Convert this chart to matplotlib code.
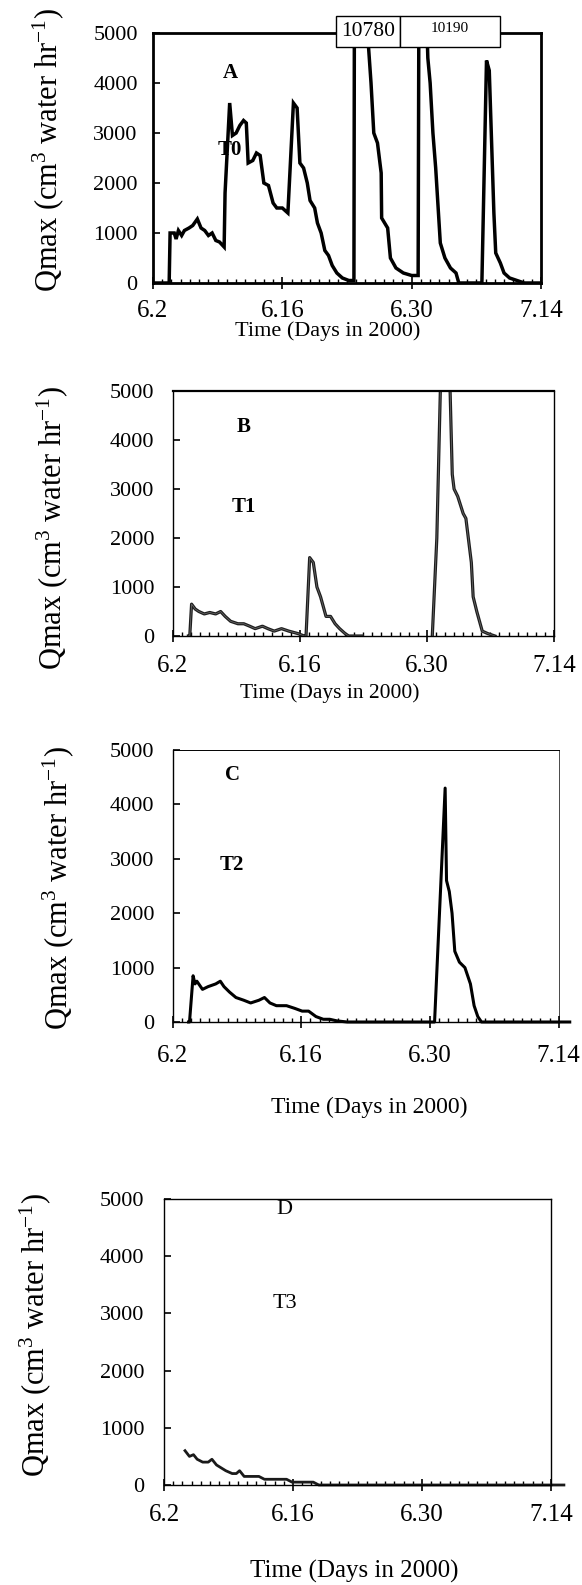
import matplotlib
matplotlib.use("Agg")
import matplotlib.pyplot as plt
import numpy as np
from matplotlib.patches import Rectangle
from matplotlib.ticker import MultipleLocator

plt.rcParams["font.family"] = ["Liberation Serif", "DejaVu Serif"]
plt.rcParams["mathtext.fontset"] = "custom"
plt.rcParams["mathtext.rm"] = "Liberation Serif"
plt.rcParams["mathtext.it"] = "Liberation Serif:italic"
plt.rcParams["mathtext.bf"] = "Liberation Serif:bold"

# x axis: days after 2 June 2000
TICK_DAYS = [0, 14, 28, 42]
TICK_LABELS = ["6.2", "6.16", "6.30", "7.14"]
Y_TICKS = [0, 1000, 2000, 3000, 4000, 5000]

# A / T0
T0_DAY = [0, 1.75, 1.85, 2.3, 2.5, 2.75, 3.1, 3.4, 3.9, 4.3, 4.8, 5.2, 5.6, 6.0, 6.4, 6.8,
          7.2, 7.7, 7.8, 8.3, 8.6, 9.0, 9.4, 9.8, 10.1, 10.3, 10.8, 11.2, 11.6, 12.0, 12.5,
          13.0, 13.4, 14.0, 14.6, 14.9, 15.2, 15.6, 15.9, 16.3, 16.7, 17.0, 17.5, 17.8, 18.2,
          18.6, 19.0, 19.4, 19.9, 20.5, 21.2, 21.75, 21.85, 23.3, 23.6, 23.9, 24.3, 24.7,
          24.75, 25.4, 25.7, 26.3, 27.1, 28.0, 28.7, 28.85, 29.75, 30.0, 30.3, 30.6, 31.1,
          31.6, 32.2, 32.8, 33.1, 35.6, 36.1, 36.4, 36.9, 37.1, 37.6, 38.0, 38.6, 39.4, 40.2, 42]
T0_Q = [0, 0, 1000, 1000, 880, 1050, 950, 1050, 1100, 1150, 1280, 1100, 1050, 950, 1000, 850,
        820, 720, 1800, 3600, 2950, 3000, 3150, 3250, 3200, 2400, 2450, 2600, 2550, 2000, 1950,
        1600, 1500, 1500, 1400, 2500, 3600, 3500, 2400, 2300, 2000, 1650, 1500, 1200, 1000,
        650, 550, 350, 200, 100, 50, 50, 10780, 4800, 4000, 3000, 2800, 2200,
        1300, 1100, 500, 300, 200, 150, 150, 10190, 4500, 4000, 3000, 2300, 800,
        500, 300, 200, 0, 0, 4450, 4250, 1400, 600, 400, 200, 100, 50, 0, 0]

# B / T1 (no trace drawn between ~6.23 and 6.30)
T1_DAY = [1.75, 1.9, 2.1, 2.5, 2.9, 3.5, 4.1, 4.75, 5.3, 5.8, 6.4, 7.2, 7.85, 8.5, 9.1, 9.9,
          10.5, 11.2, 12.0, 12.8, 13.8, 14.5, 14.7, 15.1, 15.5, 15.9, 16.3, 16.6, 16.9, 17.4,
          17.9, 18.4, 19.0, 19.4, 20.9, np.nan, 28.6, 29.1, 30.0, 30.8, 31.0, 31.4, 32.0, 32.3,
          32.9, 33.1, 33.5, 34.1, 34.7, 35.5]
T1_Q = [0, 0, 650, 550, 500, 450, 480, 450, 500, 400, 300, 250, 250, 200, 150, 200,
        150, 100, 150, 100, 50, 0, 0, 1600, 1500, 1000, 800, 600, 400, 400,
        250, 150, 50, 0, 0, np.nan, 0, 2000, 9000, 3300, 3000, 2850, 2500, 2400,
        1500, 800, 500, 100, 50, 0]

# C / T2
T2_DAY = [1.75, 1.85, 2.24, 2.45, 2.65, 3.26, 3.87, 4.7, 5.2, 5.6, 6.2, 6.9, 7.75, 8.5, 9.4,
          10.0, 10.6, 11.3, 12.4, 13.3, 14.1, 14.8, 15.6, 16.4, 17.1, 17.9, 19.0, 28.5, 29.65,
          29.8, 30.1, 30.4, 30.7, 31.2, 31.8, 32.4, 32.8, 33.2, 33.6, 43.2]
T2_Q = [0, 0, 850, 700, 750, 600, 650, 700, 750, 650, 550, 450, 400, 350, 400,
        450, 350, 300, 300, 250, 200, 200, 100, 50, 50, 20, 0, 0, 4300,
        2600, 2400, 2000, 1300, 1100, 1000, 700, 300, 100, 0, 0]

# D / T3
T3_DAY = [2.28, 2.76, 3.2, 3.6, 4.2, 4.8, 5.2, 5.7, 6.2, 6.7, 7.4, 7.85, 8.2, 8.7, 10.3,
          10.9, 13.3, 13.9, 16.2, 16.8, 43.4]
T3_Q = [600, 500, 530, 450, 400, 400, 450, 350, 300, 250, 200, 200, 250, 150, 150,
        100, 100, 50, 50, 0, 0]

W, H = 582, 1585
YLABEL = r"Qmax (cm$^3$ water hr$^{-1}$)"
XLABEL = "Time (Days in 2000)"

fig = plt.figure(figsize=(W / 100, H / 100), dpi=100)


def add_axes(left, right, top, bottom):
    return fig.add_axes([left / W, 1 - bottom / H, (right - left) / W, (bottom - top) / H])


def style(ax, spine_w, xpad, ypad):
    ax.set_xlim(0, 42)
    ax.set_ylim(0, 5000)
    ax.set_xticks(TICK_DAYS)
    ax.set_xticklabels(TICK_LABELS)
    ax.set_yticks(Y_TICKS)
    ax.xaxis.set_minor_locator(MultipleLocator(1))
    ax.tick_params(axis="x", which="major", direction="inout", length=9, width=1.2,
                   pad=xpad, labelsize=18)
    ax.tick_params(axis="x", which="minor", direction="in", length=3, width=1)
    ax.tick_params(axis="y", which="major", direction="in", length=5, width=1.2,
                   pad=ypad, labelsize=16)
    for s in ax.spines.values():
        s.set_linewidth(spine_w)


def labels(ylx, yly, xlx, xly, xsize):
    fig.text(ylx / W, 1 - yly / H, YLABEL, rotation=90, ha="center", va="center", fontsize=22)
    fig.text(xlx / W, 1 - xly / H, XLABEL, ha="center", va="center", fontsize=xsize)


# panel A
ax = add_axes(153, 541, 33, 283)
ax.plot(T0_DAY, T0_Q, color="black", lw=2.5, solid_joinstyle="miter")
style(ax, 2.0, 8, 11)
ax.text(8.4, 4200, "A", ha="center", va="center", fontsize=15, fontweight="bold")
ax.text(8.3, 2660, "T0", ha="center", va="center", fontsize=15, fontweight="bold")
ax.add_patch(Rectangle((19.8, 4730), 6.9, 620, facecolor="white", edgecolor="black",
                       lw=1.0, clip_on=False, zorder=5))
ax.add_patch(Rectangle((26.7, 4730), 10.9, 620, facecolor="white", edgecolor="black",
                       lw=1.0, clip_on=False, zorder=5))
ax.text(23.25, 5030, "10780", ha="center", va="center", fontsize=15.5, zorder=6)
ax.text(32.1, 5090, "10190", ha="center", va="center", fontsize=11, zorder=6)
labels(48, 150, 328, 331, 16)

# panel B
ax = add_axes(172.5, 554, 391, 636)
ax.plot(T1_DAY, T1_Q, color="#1e1e1e", lw=2.3)
ax.plot(T1_DAY, T1_Q, color="#707070", lw=0.5)
style(ax, 1.0, 9.5, 13)
ax.spines["top"].set_linewidth(1.6)
ax.text(7.85, 4270, "B", ha="center", va="center", fontsize=15, fontweight="bold")
ax.text(7.85, 2630, "T1", ha="center", va="center", fontsize=15, fontweight="bold")
labels(52, 528, 330, 693, 15.5)

# panel C
ax = add_axes(172.5, 558.7, 750, 1022)
ax.plot(T2_DAY, T2_Q, color="black", lw=2.2, clip_on=False)
style(ax, 1.0, 12, 13)
ax.spines["right"].set_linewidth(0.5)
ax.spines["top"].set_linewidth(0.7)
ax.text(6.5, 4540, "C", ha="center", va="center", fontsize=15, fontweight="bold")
ax.text(6.5, 2880, "T2", ha="center", va="center", fontsize=15, fontweight="bold")
labels(58, 888, 369, 1107, 17)

# panel D
ax = add_axes(164, 551, 1199, 1485)
ax.plot(T3_DAY, T3_Q, color="#1a1a1a", lw=2.0, clip_on=False)
style(ax, 1.0, 9, 14)
ax.text(13.1, 4810, "D", ha="center", va="center", fontsize=16)
ax.text(13.1, 3180, "T3", ha="center", va="center", fontsize=16)
labels(35, 1335, 354, 1571, 18)

fig.savefig("out.png", dpi=100)
